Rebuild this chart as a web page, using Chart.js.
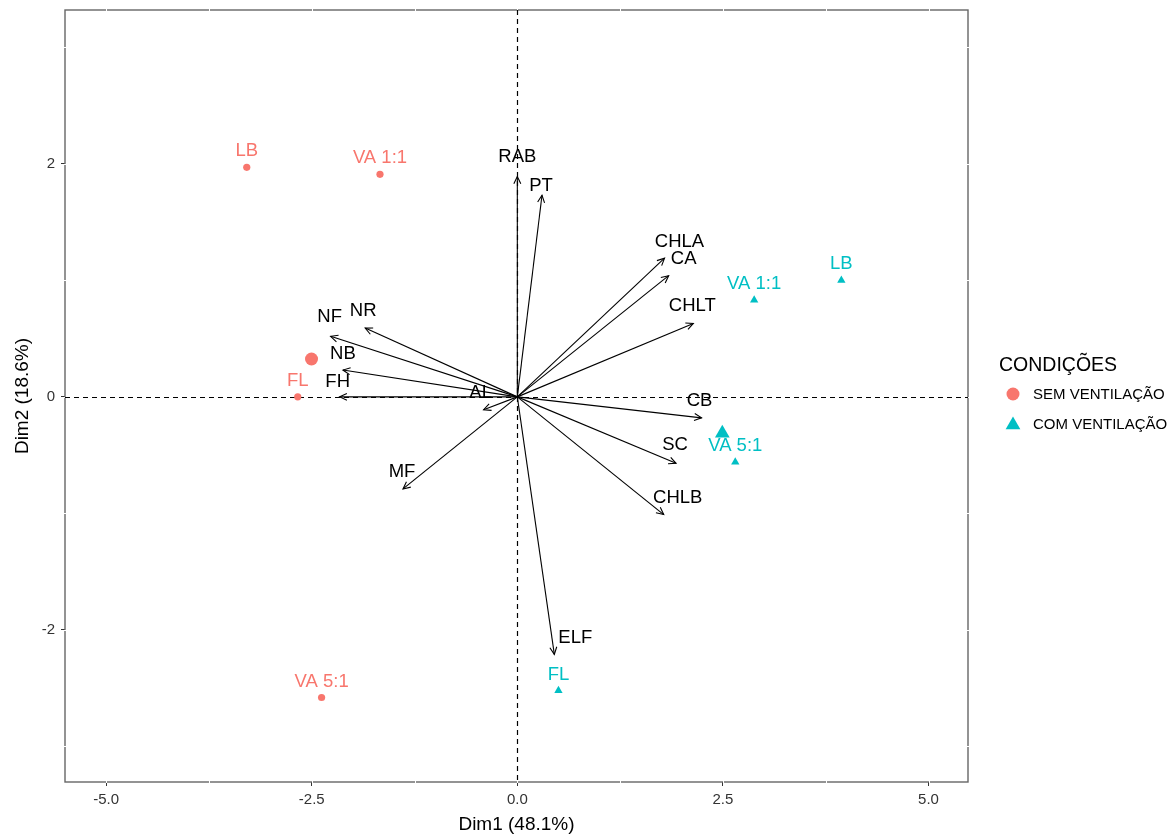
<!DOCTYPE html>
<html>
<head>
<meta charset="utf-8">
<script src="https://cdn.jsdelivr.net/npm/chart.js@4.4.1/dist/chart.umd.min.js"></script>
<style>
  html, body { margin: 0; padding: 0; background: #fff; }
</style>
</head>
<body>
<canvas id="chart" width="1174" height="836"></canvas>
<script>
// individuals, same order in both groups
var indNames = ['LB', 'VA 1:1', 'FL', 'VA 5:1'];
var semX = [-3.29, -1.67, -2.67, -2.38];
var semY = [1.97, 1.91, 0.00, -2.58];
var comX = [3.94, 2.88, 0.50, 2.65];
var comY = [1.00, 0.83, -2.52, -0.56];

// variable loadings (arrow tips)
var varNames = ['RAB', 'PT', 'CHLA', 'CA', 'CHLT', 'CB', 'SC', 'CHLB', 'ELF', 'MF', 'AL', 'FH', 'NB', 'NF', 'NR'];
var varX = [0.00, 0.30, 1.79, 1.84, 2.14, 2.24, 1.93, 1.78, 0.45, -1.39, -0.41, -2.16, -2.12, -2.27, -1.85];
var varY = [1.89, 1.73, 1.19, 1.04, 0.63, -0.18, -0.57, -1.01, -2.21, -0.79, -0.11, 0.00, 0.23, 0.52, 0.59];

var groupNames = ['SEM VENTILAÇÃO', 'COM VENTILAÇÃO'];
var xTicks = [-5, -2.5, 0, 2.5, 5];
var yTicks = [-2, 0, 2];

var RED = '#F8766D', TEAL = '#00BFC4';
var FONT = "'Liberation Sans', Arial, sans-serif";

// where the labels sit relative to the arrow tip (px), repelled ones pushed aside
var varLabelNudge = {
  RAB: [0, -20], PT: [-1, -9], CHLA: [15, -16], CA: [15, -17], CHLT: [-1, -18],
  CB: [-2, -17], SC: [-1, -18], CHLB: [14, -17], ELF: [21, -16], MF: [-1, -17],
  AL: [-3, -17], FH: [-2, -15], NB: [0, -16], NF: [-1, -19], NR: [-2, -17]
};

function mean(a) { return a.reduce(function (s, v) { return s + v; }, 0) / a.length; }
function pts(xs, ys) { return xs.map(function (x, i) { return { x: x, y: ys[i] }; }); }

function drawTri(ctx, x, y, r) {
  ctx.beginPath();
  for (var k = 0; k < 3; k++) {
    var a = k * 2 * Math.PI / 3;
    var px = x + Math.sin(a) * r, py = y - Math.cos(a) * r;
    if (k == 0) ctx.moveTo(px, py); else ctx.lineTo(px, py);
  }
  ctx.closePath();
  ctx.fill();
}

function arrow(ctx, x0, y0, x1, y1) {
  ctx.beginPath();
  ctx.moveTo(x0, y0);
  ctx.lineTo(x1, y1);
  ctx.stroke();
  var ang = Math.atan2(y1 - y0, x1 - x0), len = 8, spread = Math.PI / 7;
  ctx.beginPath();
  ctx.moveTo(x1 - len * Math.cos(ang - spread), y1 - len * Math.sin(ang - spread));
  ctx.lineTo(x1, y1);
  ctx.lineTo(x1 - len * Math.cos(ang + spread), y1 - len * Math.sin(ang + spread));
  ctx.stroke();
}

var biplot = {
  id: 'biplot',
  beforeDatasetsDraw: function (chart) {
    var ctx = chart.ctx, a = chart.chartArea, x = chart.scales.x, y = chart.scales.y;
    ctx.save();
    ctx.strokeStyle = '#666';
    ctx.lineWidth = 1.4;
    ctx.strokeRect(a.left, a.top, a.right - a.left, a.bottom - a.top);

    // white grid, only shows where it cuts the border
    ctx.strokeStyle = '#fff';
    ctx.lineWidth = 1;
    for (var k = -4; k <= 4; k++) {
      var px = Math.round(x.getPixelForValue(k * 1.25)) + 0.5;
      ctx.beginPath(); ctx.moveTo(px, a.top - 1); ctx.lineTo(px, a.bottom + 1); ctx.stroke();
    }
    for (var j = -3; j <= 3; j++) {
      var py = Math.round(y.getPixelForValue(j)) + 0.5;
      ctx.beginPath(); ctx.moveTo(a.left - 1, py); ctx.lineTo(a.right + 1, py); ctx.stroke();
    }

    // dashed zero lines
    ctx.strokeStyle = '#000';
    ctx.lineWidth = 1.2;
    ctx.setLineDash([5, 4]);
    var x0 = Math.round(x.getPixelForValue(0)) + 0.5, y0 = Math.round(y.getPixelForValue(0)) + 0.5;
    ctx.beginPath(); ctx.moveTo(x0, a.top); ctx.lineTo(x0, a.bottom); ctx.stroke();
    ctx.beginPath(); ctx.moveTo(a.left, y0); ctx.lineTo(a.right, y0); ctx.stroke();
    ctx.restore();
  },
  afterDatasetsDraw: function (chart) {
    var ctx = chart.ctx, x = chart.scales.x, y = chart.scales.y;
    var ox = x.getPixelForValue(0), oy = y.getPixelForValue(0);
    ctx.save();
    ctx.strokeStyle = '#000';
    ctx.lineWidth = 1.1;
    ctx.font = '18.5px ' + FONT;
    ctx.textAlign = 'center';
    ctx.textBaseline = 'middle';
    ctx.fillStyle = '#000';
    varNames.forEach(function (n, i) {
      var tx = x.getPixelForValue(varX[i]), ty = y.getPixelForValue(varY[i]);
      arrow(ctx, ox, oy, tx, ty);
      var nd = varLabelNudge[n];
      ctx.fillText(n, tx + nd[0], ty + nd[1]);
    });
    // individual labels
    [[semX, semY, RED], [comX, comY, TEAL]].forEach(function (g) {
      ctx.fillStyle = g[2];
      indNames.forEach(function (n, i) {
        ctx.fillText(n, x.getPixelForValue(g[0][i]), y.getPixelForValue(g[1][i]) - 16);
      });
    });
    ctx.restore();
  },
  afterDraw: function (chart) {
    var ctx = chart.ctx;
    ctx.save();
    ctx.textAlign = 'left';
    ctx.textBaseline = 'middle';
    ctx.fillStyle = '#000';
    ctx.font = '19.5px ' + FONT;
    ctx.fillText('CONDIÇÕES', 999, 366);
    ctx.font = '15px ' + FONT;
    ctx.fillText(groupNames[0], 1033, 395);
    ctx.fillText(groupNames[1], 1033, 425);
    ctx.fillStyle = RED;
    ctx.beginPath(); ctx.arc(1013, 394, 6.5, 0, 2 * Math.PI); ctx.fill();
    ctx.fillStyle = TEAL;
    drawTri(ctx, 1013, 425, 8.5);
    ctx.restore();
  }
};

var data = {
  datasets: [
    { label: groupNames[0], data: pts(semX, semY), pointStyle: 'circle', pointRadius: 3.6,
      pointBackgroundColor: RED, pointBorderWidth: 0, showLine: false },
    { label: groupNames[1], data: pts(comX, comY), pointStyle: 'triangle', pointRadius: 4.8,
      pointBackgroundColor: TEAL, pointBorderWidth: 0, showLine: false },
    { label: 'mean sem', data: [{ x: mean(semX), y: mean(semY) }], pointStyle: 'circle', pointRadius: 6.5,
      pointBackgroundColor: RED, pointBorderWidth: 0, showLine: false },
    { label: 'mean com', data: [{ x: mean(comX), y: mean(comY) }], pointStyle: 'triangle', pointRadius: 8.5,
      pointBackgroundColor: TEAL, pointBorderWidth: 0, showLine: false }
  ]
};

new Chart(document.getElementById('chart'), {
  type: 'scatter',
  data: data,
  options: {
    responsive: false,
    animation: false,
    layout: { padding: { top: 10, right: 206, left: 0, bottom: 0 } },
    plugins: { legend: { display: false }, tooltip: { enabled: false } },
    scales: {
      x: {
        type: 'linear', min: -5.5, max: 5.48,
        afterBuildTicks: function (s) { s.ticks = xTicks.map(function (v) { return { value: v }; }); },
        afterFit: function (s) { s.height = 54; s.paddingLeft = 0; s.paddingRight = 0; },
        ticks: { callback: function (v) { return v.toFixed(1); }, color: '#333', autoSkip: false, maxRotation: 0,
                 padding: 5, font: { size: 15, family: FONT } },
        grid: { drawOnChartArea: false, tickLength: 4, color: '#333', lineWidth: 1 },
        border: { display: false },
        title: { display: true, text: 'Dim1 (48.1%)', color: '#000', font: { size: 19, family: FONT },
                 padding: { top: 0, bottom: 0 } }
      },
      y: {
        type: 'linear', min: -3.305, max: 3.32,
        afterBuildTicks: function (s) { s.ticks = yTicks.map(function (v) { return { value: v }; }); },
        afterFit: function (s) { s.width = 65; s.paddingTop = 0; s.paddingBottom = 0; },
        ticks: { callback: function (v) { return String(v); }, color: '#333', autoSkip: false,
                 padding: 6, font: { size: 15, family: FONT } },
        grid: { drawOnChartArea: false, tickLength: 4, color: '#333', lineWidth: 1 },
        border: { display: false },
        title: { display: true, text: 'Dim2 (18.6%)', color: '#000', font: { size: 19, family: FONT },
                 padding: { top: 11, bottom: 0 } }
      }
    }
  },
  plugins: [biplot]
});
</script>
</body>
</html>
